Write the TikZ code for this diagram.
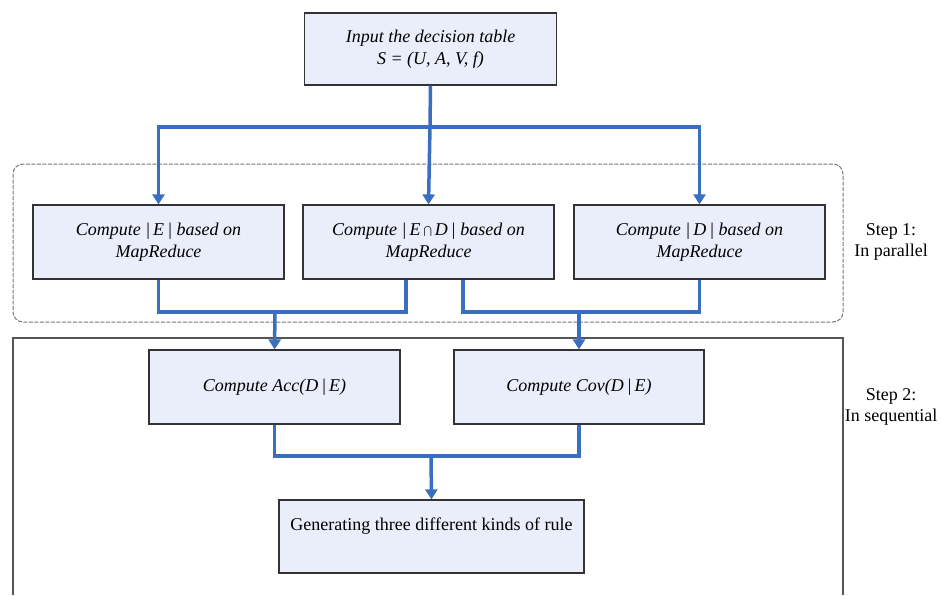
\documentclass[tikz,border=0pt]{standalone}
\usepackage{fontspec}
\setmainfont{Liberation Serif}
\usetikzlibrary{arrows.meta}
\definecolor{boxfill}{HTML}{EAEEFA}
\definecolor{flow}{HTML}{3A6FC0}
\definecolor{frame}{HTML}{555555}
\tikzset{
  procbox/.style={draw=black!80, line width=1.2pt, fill=boxfill, minimum height=74pt,
    minimum width=251pt, align=center, inner sep=2pt,
    font=\fontsize{18}{22}\selectfont\itshape},
  flowline/.style={draw=flow, line width=3.5pt},
  flowarrow/.style={flowline, -{Triangle[length=10pt,width=12pt]}},
  steplabel/.style={align=center, font=\fontsize{18}{21}\selectfont},
}
\begin{document}
\begin{tikzpicture}[x=1pt,y=-1pt]
\useasboundingbox (0,0) rectangle (942,595);
% group frames
\draw[frame!80, line width=1pt, dash pattern=on 4pt off 1.5pt, rounded corners=10pt]
  (13,164) rectangle (843,322);
\draw[frame, line width=1.5pt] (13,595) -- (13,338) -- (843,338) -- (843,595);
% nodes
\node[procbox, minimum width=252pt, minimum height=72pt] (top) at (430.5,49)
  {Input the decision table\\ S = (U, A, V, f)};
\node[procbox] (b1) at (158.5,242) {Compute |\,E\,| based on\\ MapReduce};
\node[procbox] (b2) at (428.5,242) {Compute |\,E\,$\bigcap$\,D\,| based on\\ MapReduce};
\node[procbox] (b3) at (699.5,242) {Compute |\,D\,| based on\\ MapReduce};
\node[procbox] (acc) at (274.5,387) {Compute Acc(D\,|\,E)};
\node[procbox, minimum width=250pt] (cov) at (579,387) {Compute Cov(D\,|\,E)};
\node[procbox, minimum width=305pt, minimum height=73pt, font=\fontsize{18}{22}\selectfont] (gen) at (431.5,536.5)
  {\raisebox{10pt}[\height][\depth]{Generating three different kinds of rule}};
\node[steplabel] (s1) at (891,242) {Step 1:\\In parallel};
\node[steplabel] (s2) at (891,407) {Step 2:\\In sequential};
% junctions
\coordinate (j0) at (430,127);
\coordinate (j1) at (275,312);
\coordinate (j2) at (579,312);
\coordinate (j3) at (431,456);
% connectors
\draw[flowline] (top.south) -- (j0);
\draw[flowarrow] (j0) -| (b1.north);
\draw[flowarrow] (j0) -| (b3.north);
\draw[flowarrow] (j0) -- (b2.north);
\draw[flowline] (b1.south) |- (j1);
\draw[flowline] ([xshift=-22.5pt]b2.south) |- (j1);
\draw[flowarrow] (j1) -- (acc.north);
\draw[flowline] ([xshift=34.5pt]b2.south) |- (j2);
\draw[flowline] (b3.south) |- (j2);
\draw[flowarrow] (j2) -- (cov.north);
\draw[flowline] (acc.south) |- (j3);
\draw[flowline] (cov.south) |- (j3);
\draw[flowarrow] (j3) -- (gen.north);
\end{tikzpicture}
\end{document}
